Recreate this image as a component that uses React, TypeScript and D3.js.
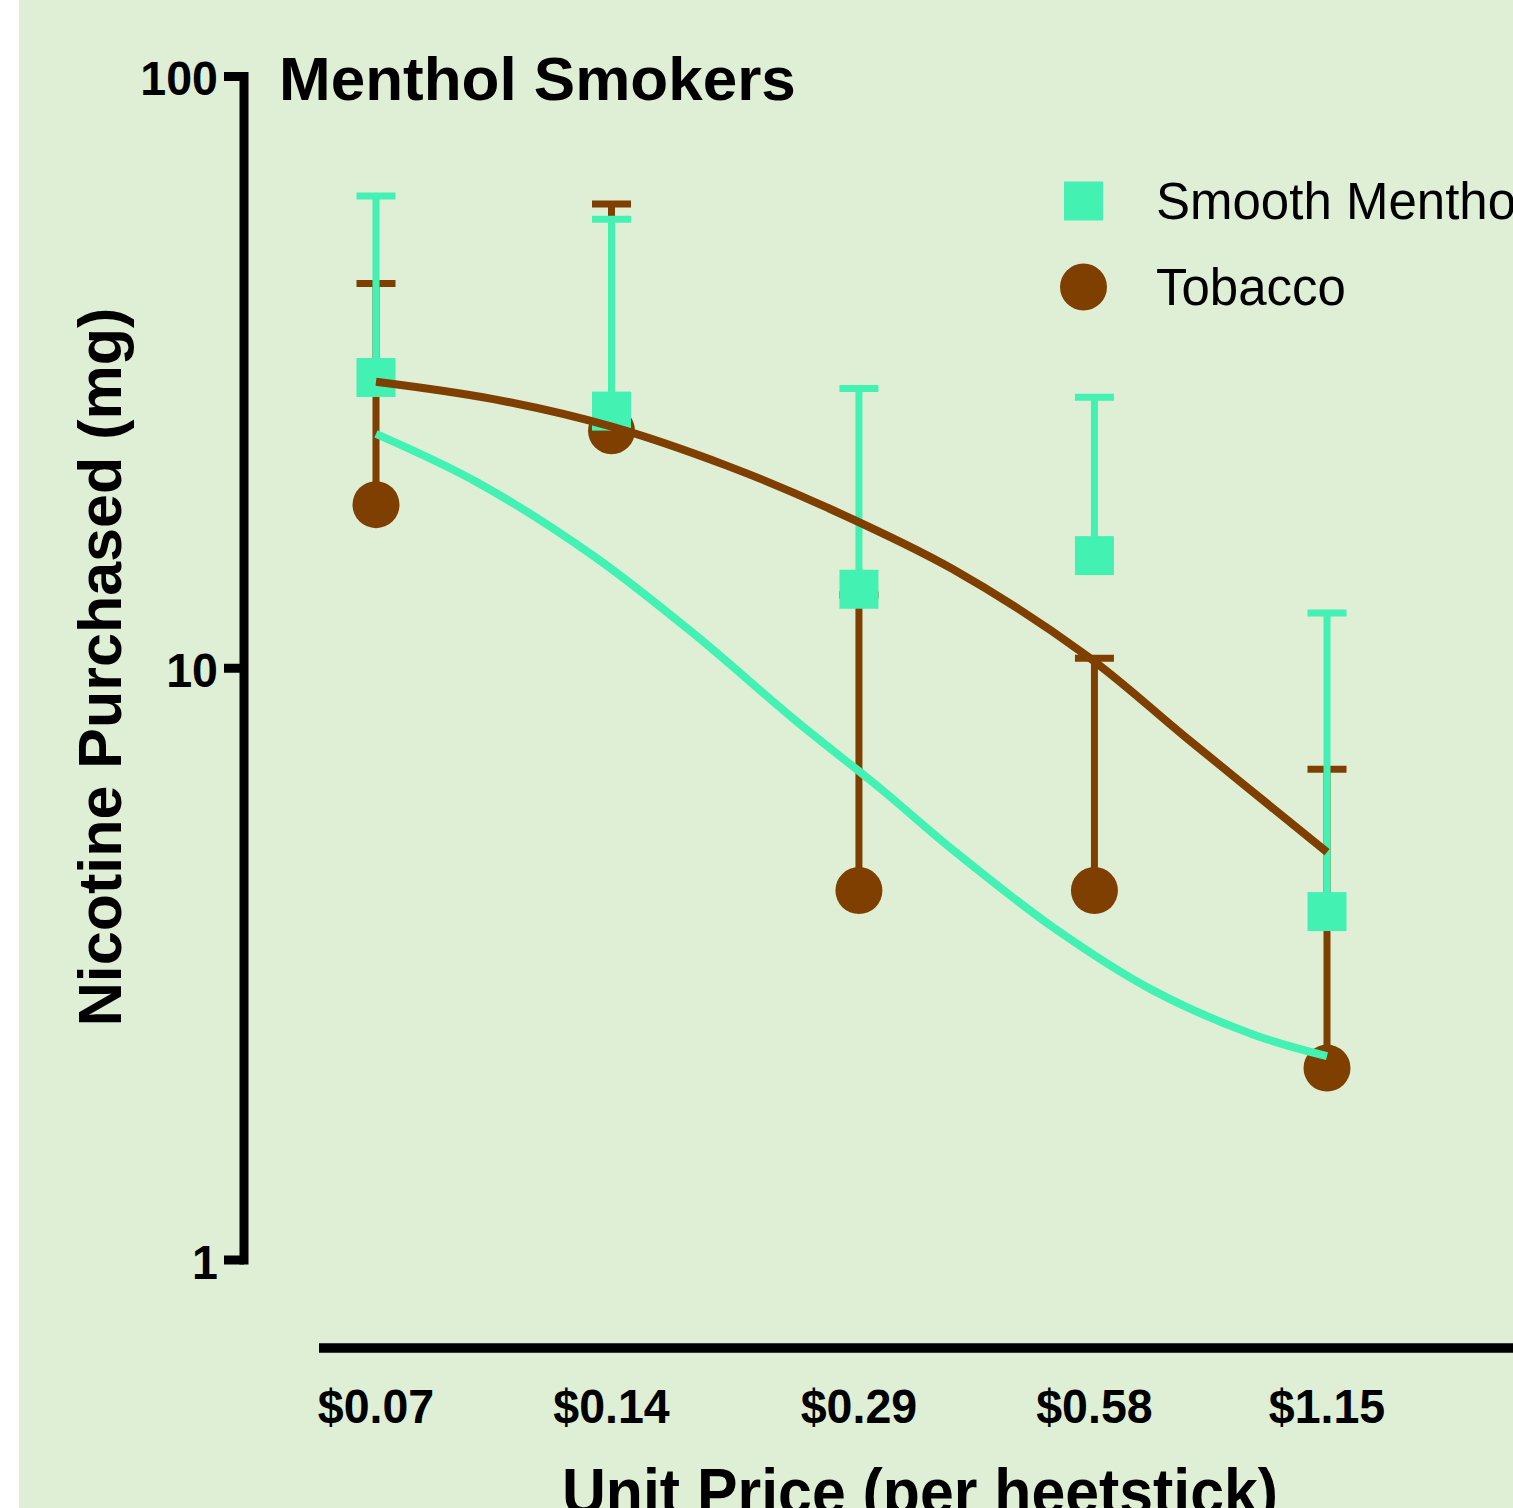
import React from "react";
import * as d3 from "d3";

const prices = [0.07, 0.14, 0.29, 0.58, 1.15];
const priceLabels = ["$0.07", "$0.14", "$0.29", "$0.58", "$1.15"];
const yTicks = [1, 10, 100];
const yTickLabels = ["1", "10", "100"];

const mentholMean = [31.0, 27.2, 13.6, 15.5, 3.88];
const mentholUpper = [62.8, 57.4, 29.7, 28.7, 12.4];
const tobaccoMean = [18.9, 25.2, 4.21, 4.21, 2.11];
const tobaccoUpper = [44.7, 60.9, 13.3, 10.4, 6.75];

const mentholCurvePrice = [0.07, 0.0941, 0.1326, 0.178, 0.2388, 0.3086, 0.3825, 0.5134, 0.689, 0.925, 1.15];
const mentholCurveValue = [24.9, 20.65, 15.5, 11.46, 8.23, 6.27, 4.93, 3.65, 2.855, 2.405, 2.21];
const tobaccoCurvePrice = [0.07, 0.0989, 0.1401, 0.1965, 0.2638, 0.3825, 0.567, 0.761, 1.15];
const tobaccoCurveValue = [30.5, 28.5, 25.6, 22.0, 18.7, 14.7, 10.5, 7.62, 4.89];

const seriesNames = ["Smooth Menthol", "Tobacco"];

const GREEN = "#43F2B2";
const BROWN = "#7F3F00";
const BG = "#DEEFD6";
const FONT = "'Liberation Sans', Arial, sans-serif";

export default function App() {
  const W = 1513;
  const H = 1508;
  const x = d3.scaleLog().domain([0.07, 1.15]).range([376, 1327]);
  const y = d3.scaleLog().domain([1, 100]).range([1260, 76.5]);
  const line = d3
    .line<[number, number]>()
    .x((d) => x(d[0]))
    .y((d) => y(d[1]))
    .curve(d3.curveCatmullRom.alpha(0.5));

  const mentholPath = line(mentholCurvePrice.map((p, i) => [p, mentholCurveValue[i]]));
  const tobaccoPath = line(tobaccoCurvePrice.map((p, i) => [p, tobaccoCurveValue[i]]));

  const capW = 39;
  const sq = 39;
  const r = 23.5;
  const axisX = 244;
  const axisY = 1348;

  const errBars = (means: number[], uppers: number[], color: string) =>
    prices.map((p, i) => (
      <g key={i} stroke={color} strokeWidth={7}>
        <line x1={x(p)} x2={x(p)} y1={y(means[i])} y2={y(uppers[i])} />
        <line x1={x(p) - capW / 2} x2={x(p) + capW / 2} y1={y(uppers[i])} y2={y(uppers[i])} />
      </g>
    ));

  return (
    <svg
      width={W}
      height={H}
      style={{ position: "absolute", left: 0, top: 0, display: "block" }}
      fontFamily={FONT}
    >
      <rect x={0} y={0} width={W} height={H} fill="#ffffff" />
      <rect x={19} y={0} width={W - 19} height={H} fill={BG} />

      {/* Y axis */}
      <line x1={axisX} x2={axisX} y1={y(100) - 4.5} y2={y(1) + 4.5} stroke="#000" strokeWidth={9} />
      {yTicks.map((t, i) => (
        <g key={t}>
          <line x1={224} x2={axisX} y1={y(t)} y2={y(t)} stroke="#000" strokeWidth={9} />
          <text
            transform={`translate(218,${y(t) + 18.5}) scale(0.95,1)`}
            textAnchor="end"
            fontSize={49}
            fontWeight="bold"
            fill="#000"
          >
            {yTickLabels[i]}
          </text>
        </g>
      ))}

      {/* X axis */}
      <line x1={319} x2={W} y1={axisY} y2={axisY} stroke="#000" strokeWidth={9.5} />
      {prices.map((p, i) => (
        <text
          key={p}
          transform={`translate(${x(p)},1423) scale(0.95,1)`}
          textAnchor="middle"
          fontSize={49}
          fontWeight="bold"
          fill="#000"
        >
          {priceLabels[i]}
        </text>
      ))}

      {/* Titles */}
      <text x={279} y={100} fontSize={62} fontWeight="bold" fill="#000">
        Menthol Smokers
      </text>
      <text
        transform="translate(121,667) rotate(-90)"
        textAnchor="middle"
        fontSize={61}
        fontWeight="bold"
        fill="#000"
      >
        Nicotine Purchased (mg)
      </text>
      <text
        transform="translate(920,1514) scale(0.95,1)"
        textAnchor="middle"
        fontSize={64}
        fontWeight="bold"
        fill="#000"
      >
        Unit Price (per heetstick)
      </text>

      {/* Error bars */}
      {errBars(tobaccoMean, tobaccoUpper, BROWN)}
      {errBars(mentholMean, mentholUpper, GREEN)}

      {/* Markers */}
      {prices.map((p, i) => (
        <circle key={"c" + i} cx={x(p)} cy={y(tobaccoMean[i])} r={r} fill={BROWN} />
      ))}
      {prices.map((p, i) => (
        <rect
          key={"s" + i}
          x={x(p) - sq / 2}
          y={y(mentholMean[i]) - sq / 2}
          width={sq}
          height={sq}
          fill={GREEN}
        />
      ))}

      {/* Fitted curves */}
      <path d={tobaccoPath || ""} fill="none" stroke={BROWN} strokeWidth={8} />
      <path d={mentholPath || ""} fill="none" stroke={GREEN} strokeWidth={8} />

      {/* Legend */}
      <rect x={1064} y={181.5} width={sq} height={sq} fill={GREEN} />
      <circle cx={1083.5} cy={287} r={r} fill={BROWN} />
      <text x={1156} y={219} fontSize={51} fill="#000">
        {seriesNames[0]}
      </text>
      <text x={1156} y={305} fontSize={51} fill="#000">
        {seriesNames[1]}
      </text>
    </svg>
  );
}
